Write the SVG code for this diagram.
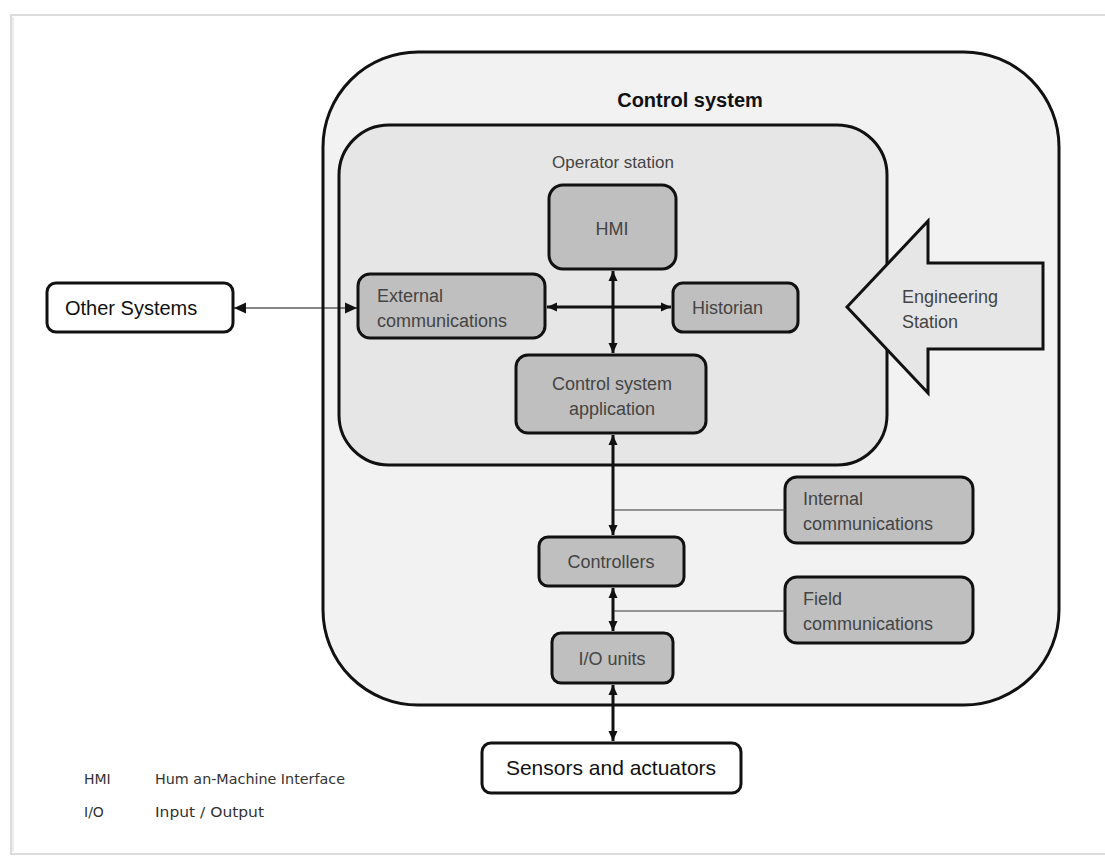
<svg xmlns="http://www.w3.org/2000/svg" width="1105" height="856" viewBox="0 0 1105 856">
<style>
.lbl{font-family:"Liberation Sans",Arial,sans-serif;fill:#444;font-size:18px}
.blk{font-family:"Liberation Sans",Arial,sans-serif;fill:#111;font-size:20px}
.box{fill:#bfbfbf;stroke:#111;stroke-width:3}
.wbox{fill:#fff;stroke:#111;stroke-width:3}
.thick{stroke:#111;stroke-width:3;fill:none}
.thin{stroke:#333;stroke-width:1.2;fill:none}
.leg{font-family:"DejaVu Sans",Verdana,sans-serif;fill:#333;font-size:14px}
</style>
<defs>
<marker id="ah" markerUnits="userSpaceOnUse" markerWidth="12" markerHeight="12" refX="10" refY="6" orient="auto-start-reverse">
<path d="M0,1.5 L10,6 L0,10.5 z" fill="#111"/>
</marker>
<marker id="ahs" markerUnits="userSpaceOnUse" markerWidth="14" markerHeight="14" refX="12" refY="7" orient="auto-start-reverse">
<path d="M0,1.5 L12,7 L0,12.5 z" fill="#111"/>
</marker>
</defs>
<rect x="0" y="0" width="1105" height="856" fill="#fff"/>
<rect x="11" y="15" width="1100" height="839" fill="#fff" stroke="#dcdcdc" stroke-width="2"/>
<line x1="13" y1="17" x2="13" y2="852" stroke="#ececec" stroke-width="2"/>

<g id="control-system">
<rect x="323" y="52" width="736" height="653" rx="95" ry="95" fill="#f2f2f2" stroke="#111" stroke-width="3"/>
<text x="690" y="107" text-anchor="middle" font-family="Liberation Sans,Arial,sans-serif" font-weight="bold" font-size="20" fill="#111">Control system</text>
</g>
<g id="operator-station">
<rect x="339" y="125" width="548" height="340" rx="50" ry="50" fill="#e6e6e6" stroke="#111" stroke-width="3"/>
<text x="613" y="168" text-anchor="middle" class="lbl" style="font-size:17px">Operator station</text>
</g>
<g id="engineering-station">
<polygon points="847,307 928,221 928,263 1043,263 1043,349 928,349 928,393" fill="#e6e6e6" stroke="#111" stroke-width="3" stroke-linejoin="miter"/>
<text class="lbl" x="902" y="303">Engineering</text>
<text class="lbl" x="902" y="328">Station</text>
</g>
<g id="hmi">
<rect class="box" x="549" y="185" width="127" height="84" rx="14"/>
<text class="lbl" x="612" y="235" text-anchor="middle">HMI</text>
</g>
<g id="historian">
<rect class="box" x="673" y="283" width="125" height="49" rx="10"/>
<text class="lbl" x="692" y="314">Historian</text>
</g>
<g id="external-communications">
<rect class="box" x="358" y="274" width="187" height="64" rx="12"/>
<text class="lbl" x="377" y="302">External</text>
<text class="lbl" x="377" y="327">communications</text>
</g>
<g id="control-system-application">
<rect class="box" x="516" y="355" width="190" height="78" rx="12"/>
<text class="lbl" x="612" y="390" text-anchor="middle">Control system</text>
<text class="lbl" x="612" y="415" text-anchor="middle">application</text>
</g>
<g id="internal-communications">
<rect class="box" x="785" y="477" width="188" height="66" rx="12"/>
<text class="lbl" x="803" y="505">Internal</text>
<text class="lbl" x="803" y="530">communications</text>
</g>
<g id="field-communications">
<rect class="box" x="785" y="577" width="188" height="66" rx="12"/>
<text class="lbl" x="803" y="605">Field</text>
<text class="lbl" x="803" y="630">communications</text>
</g>
<g id="controllers">
<rect class="box" x="539" y="537" width="145" height="49" rx="9"/>
<text class="lbl" x="611" y="568" text-anchor="middle">Controllers</text>
</g>
<g id="io-units">
<rect class="box" x="552" y="633" width="121" height="50" rx="9"/>
<text class="lbl" x="612" y="665" text-anchor="middle">I/O units</text>
</g>
<g id="other-systems">
<rect class="wbox" x="47" y="283" width="186" height="49" rx="9"/>
<text class="blk" x="65" y="315">Other Systems</text>
</g>
<g id="sensors-actuators">
<rect class="wbox" x="482" y="743" width="259" height="50" rx="9"/>
<text class="blk" x="611" y="775" text-anchor="middle" style="font-size:21px">Sensors and actuators</text>
</g>

<g id="connectors">
<line x1="234" y1="308" x2="357" y2="308" stroke="#111" stroke-width="1.2" marker-start="url(#ahs)" marker-end="url(#ahs)"/>
<line class="thick" x1="547" y1="307" x2="671" y2="307" marker-start="url(#ah)" marker-end="url(#ah)"/>
<line class="thick" x1="613" y1="271" x2="613" y2="353" marker-start="url(#ah)" marker-end="url(#ah)"/>
<line class="thick" x1="613" y1="435" x2="613" y2="535" marker-start="url(#ah)" marker-end="url(#ah)"/>
<line class="thick" x1="613" y1="588" x2="613" y2="631" marker-start="url(#ah)" marker-end="url(#ah)"/>
<line class="thick" x1="613" y1="685" x2="613" y2="741" marker-start="url(#ah)" marker-end="url(#ah)"/>
<line class="thin" x1="614" y1="510" x2="785" y2="510"/>
<line class="thin" x1="614" y1="611" x2="785" y2="611"/>
</g>

<g id="legend">
<text class="leg" x="84" y="784">HMI</text>
<text class="leg" x="155" y="784" textLength="190" lengthAdjust="spacingAndGlyphs">Hum an-Machine Interface</text>
<text class="leg" x="84" y="817">I/O</text>
<text class="leg" x="155" y="817" textLength="109" lengthAdjust="spacingAndGlyphs">Input / Output</text>
</g>
</svg>
